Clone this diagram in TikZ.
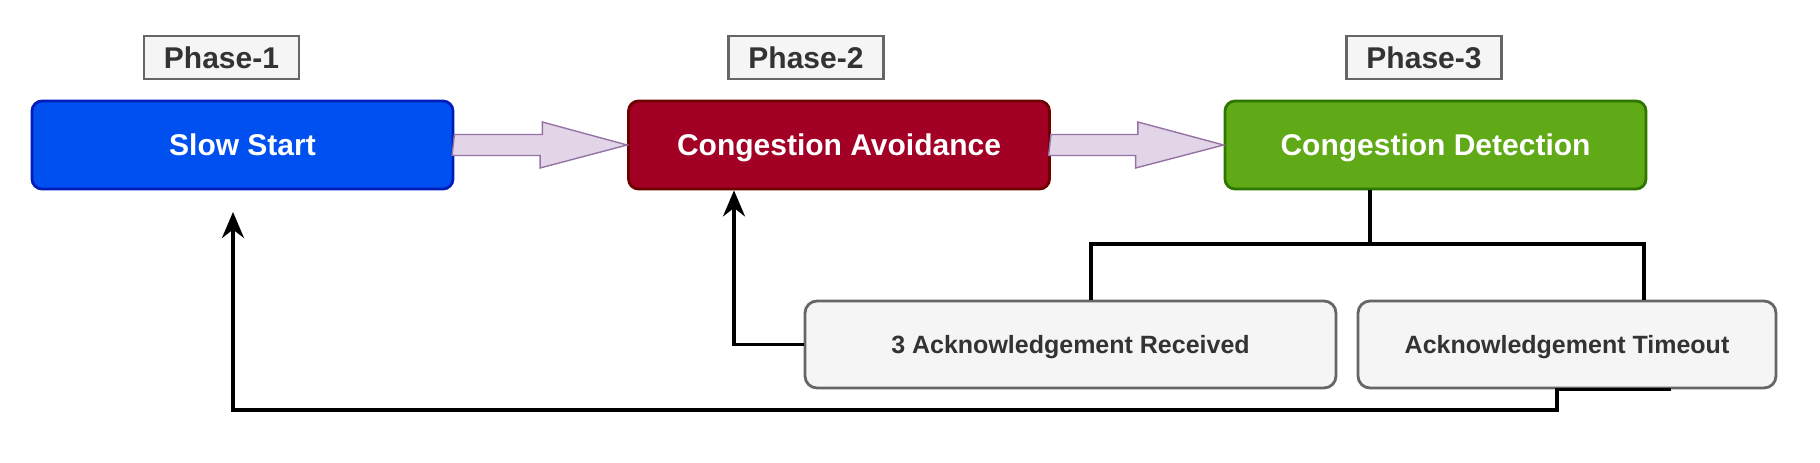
\documentclass[tikz,border=0pt]{standalone}
\usepackage{fontspec}
\setmainfont{Liberation Sans}
\usetikzlibrary{arrows.meta}
\definecolor{ssfill}{HTML}{0050EF}
\definecolor{ssdraw}{HTML}{001DBC}
\definecolor{cafill}{HTML}{A20025}
\definecolor{cadraw}{HTML}{6F0000}
\definecolor{cdfill}{HTML}{60A917}
\definecolor{cddraw}{HTML}{2D7600}
\definecolor{gfill}{HTML}{F5F5F5}
\definecolor{gdraw}{HTML}{666666}
\definecolor{gtext}{HTML}{333333}
\definecolor{pfill}{HTML}{E1D5E7}
\definecolor{pdraw}{HTML}{9673A6}
\tikzset{
  phasebox/.style={draw=gdraw, fill=gfill, text=gtext, line width=1.4pt, minimum width=77.5pt, minimum height=21.5pt, inner sep=0pt, text height=10.7pt, text depth=0pt, font=\fontsize{15}{18}\selectfont\bfseries},
  mainbox/.style={rounded corners=5pt, line width=1.4pt, text=white, minimum width=210.5pt, minimum height=44pt, inner sep=0pt, text height=10.7pt, text depth=0pt, font=\fontsize{15}{18}\selectfont\bfseries},
  ackbox/.style={draw=gdraw, fill=gfill, text=gtext, rounded corners=6pt, line width=1.4pt, minimum height=43.5pt, inner sep=0pt, text height=9pt, text depth=0pt, font=\fontsize{12.5}{15}\selectfont\bfseries},
  conn/.style={line width=1.8pt, black},
  tip/.style={-{Stealth[length=13pt,width=11pt]}},
  fatarrow/.style={draw=pdraw, fill=pfill, line width=0.7pt, line join=miter}
}
\begin{document}
\begin{tikzpicture}[x=0.5pt,y=-0.5pt]
\useasboundingbox (0,0) rectangle (1820,462);
\node[phasebox] (ph1) at (221.5,57.5) {Phase-1};
\node[phasebox] (ph2) at (806,57.5) {Phase-2};
\node[phasebox] (ph3) at (1424,57.5) {Phase-3};
\node[mainbox, fill=ssfill, draw=ssdraw] (ss) at (242.5,145) {Slow Start};
\node[mainbox, fill=cafill, draw=cadraw] (ca) at (839,145) {Congestion Avoidance};
\node[mainbox, fill=cdfill, draw=cddraw] (cd) at (1435.5,145) {Congestion Detection};
\node[ackbox, minimum width=265.5pt] (ar) at (1070.5,344.5) {3 Acknowledgement Received};
\node[ackbox, minimum width=209pt] (at) at (1567,344.5) {Acknowledgement Timeout};
% fat arrows
\draw[fatarrow] (ss.east) ++(0,-10.5) -- ++(88,0) -- ++(0,-12.5) -- (ca.west) -- ++(-87,23) -- ++(0,-12.5) -- ++(-88,0) -- cycle;
\draw[fatarrow] (ca.east) ++(0,-10.5) -- ++(87,0) -- ++(0,-12.5) -- (cd.west) -- ++(-88,23) -- ++(0,-12.5) -- ++(-87,0) -- cycle;
% tree connectors
\coordinate (split) at (1370,244);
\coordinate (jl) at (1091,244);
\coordinate (jr) at (1644,244);
\draw[conn] (split |- cd.south) -- (split);
\draw[conn] (jl |- ar.north) -- (jl) -- (jr) -- (jr |- at.north);
% feedback to congestion avoidance
\coordinate (cain) at (734,0);
\draw[conn, tip] (ar.west) -| (cain |- ca.south);
% feedback to slow start
\coordinate (bs) at (1671,0);
\coordinate (bx) at (1557,410);
\coordinate (ssin) at (233,212);
\draw[conn, tip] (bs |- at.south) -- (bx |- at.south) -- (bx) -| (ssin);
\end{tikzpicture}
\end{document}
